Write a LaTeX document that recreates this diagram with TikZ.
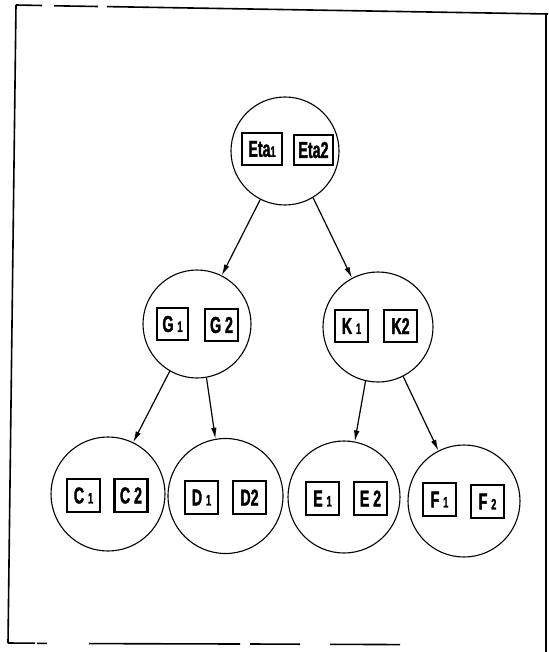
\documentclass[tikz,border=0pt]{standalone}
\usepackage{fontspec}
\newfontfamily\labfont{Liberation Sans}[FakeStretch=0.62,FakeBold=1.5]
\usetikzlibrary{arrows.meta}
\newcommand{\sm}[1]{{\fontsize{15}{15}\selectfont #1}}
\tikzset{
  tree/.style={draw, circle, line width=1.1pt, inner sep=0pt},
  lab/.style={draw, line width=2.8pt, inner sep=0pt, minimum width=33pt, minimum height=32pt,
    font=\labfont\bfseries\fontsize{23}{23}\selectfont},
  widelab/.style={lab, minimum width=40pt},
  arr/.style={line width=1.2pt, -{Latex[length=11pt,width=5.5pt]}},
  frame/.style={line width=1.6pt}
}
\begin{document}
\begin{tikzpicture}[x=1pt,y=-1pt]
\useasboundingbox (0,0) rectangle (548,652);
% frame
\draw[frame] (16,5) -- (42,5.5);
\draw[frame] (54,5.8) -- (98,6.5);
\draw[frame] (107,6.6) -- (548,14);
\draw[frame] (16,5) -- (8,643);
\draw[frame] (546,14) -- (546,652);
\draw[frame] (8,643) -- (35,643.2);
\draw[frame] (37,643.3) -- (47,643.4);
\draw[frame] (89,643.6) -- (240,644);
\draw[frame] (250,644) -- (300,644.2);
\draw[frame] (330,644.3) -- (400,644.6);
% circles
\node[tree, minimum size=108pt] (top) at (285,151) {};
\node[tree, minimum size=108pt] (g) at (197,324) {};
\node[tree, minimum size=110pt] (k) at (378,327) {};
\node[tree, minimum size=114pt] (c) at (108,494) {};
\node[tree, minimum size=115pt] (d) at (225.5,496) {};
\node[tree, minimum size=112pt] (e) at (344,497) {};
\node[tree, minimum size=112pt] (f) at (464,501) {};
% labels
\node[widelab] (eta1) at (262,149) {Eta\sm{1}};
\node[widelab, minimum width=39pt, minimum height=30pt] (eta2) at (313.5,150) {Eta2};
\node[lab, minimum width=31pt] (g1) at (172.5,324) {G\,\sm{1}};
\node[lab] (g2) at (221.5,325) {G\,2};
\node[lab] (k1) at (351.5,326) {K\,\sm{1}};
\node[lab] (k2) at (400.5,326) {K2};
\node[lab, minimum height=33pt] (c1) at (83.5,495.5) {C\,\sm{1}};
\node[lab, minimum height=33pt] (c2) at (131,495.5) {C\,2};
\node[lab, minimum height=33pt] (d1) at (201.5,497.5) {D\,\sm{1}};
\node[lab, minimum height=33pt] (d2) at (249.5,497.5) {D2};
\node[lab, minimum height=33pt] (e1) at (322.5,498.5) {E\,\sm{1}};
\node[lab, minimum height=33pt] (e2) at (370.5,498.5) {E\,2};
\node[lab, minimum height=33pt] (f1) at (439.5,499.5) {F\,\sm{1}};
\node[lab, minimum height=33pt] (f2) at (487.5,501.5) {F\,\sm{2}};
% arrows
\draw[arr] (top.243) -- (g.63);
\draw[arr] (top.301) -- (k.118);
\draw[arr] (g.240) -- (c.64);
\draw[arr] (g.280) -- (d.100);
\draw[arr] (k.257) -- (e.79);
\draw[arr] (k.297) -- (f.117);
\end{tikzpicture}
\end{document}
